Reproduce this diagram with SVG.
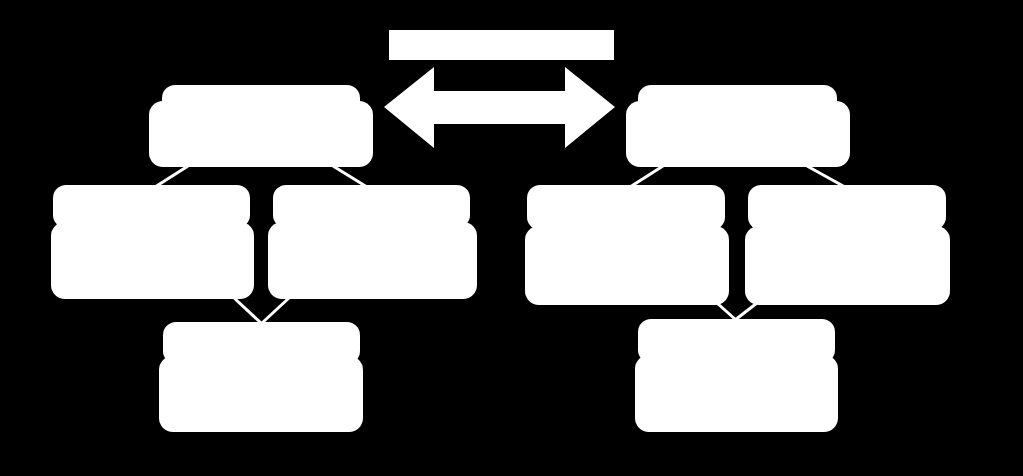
<svg xmlns="http://www.w3.org/2000/svg" width="1023" height="476" viewBox="0 0 1023 476">
<style>
.s{fill:#fff;}
.c line{stroke:#fff;stroke-width:3;}
</style>
<rect width="1023" height="476" fill="#000"/>
<g id="connectors" class="c">
<line x1="188" y1="166" x2="155" y2="187"/>
<line x1="333" y1="166" x2="367" y2="187"/>
<line x1="233" y1="297" x2="261" y2="323"/>
<line x1="290" y1="297" x2="262" y2="323"/>
<line x1="663" y1="166" x2="630" y2="187"/>
<line x1="807" y1="166" x2="845" y2="187"/>
<line x1="717" y1="303" x2="736" y2="320"/>
<line x1="757" y1="303" x2="735" y2="320"/>
</g>
<g id="title-bar"><rect class="s" x="389" y="30" width="225" height="30"/></g>
<g id="double-arrow"><polygon class="s" points="384,107 434,67 434,91 565,91 565,67 615,107 565,148 565,124 434,124 434,148"/></g>
<g id="node-top-left">
<rect class="s" x="162" y="85" width="198" height="40" rx="13"/>
<rect class="s" x="149" y="101" width="224" height="66" rx="14"/>
</g>
<g id="node-mid-left-a">
<rect class="s" x="53" y="185" width="197" height="43" rx="13"/>
<rect class="s" x="51" y="222" width="203" height="77" rx="14"/>
</g>
<g id="node-mid-left-b">
<rect class="s" x="273" y="185" width="197" height="43" rx="13"/>
<rect class="s" x="268" y="222" width="209" height="77" rx="14"/>
</g>
<g id="node-bottom-left">
<rect class="s" x="163" y="322" width="197" height="42" rx="13"/>
<rect class="s" x="159" y="356" width="204" height="76" rx="14"/>
</g>
<g id="node-top-right">
<rect class="s" x="638" y="85" width="199" height="40" rx="13"/>
<rect class="s" x="626" y="101" width="224" height="66" rx="14"/>
</g>
<g id="node-mid-right-a">
<rect class="s" x="527" y="185" width="198" height="45" rx="13"/>
<rect class="s" x="525" y="226" width="204" height="79" rx="14"/>
</g>
<g id="node-mid-right-b">
<rect class="s" x="748" y="185" width="198" height="45" rx="13"/>
<rect class="s" x="745" y="226" width="205" height="79" rx="14"/>
</g>
<g id="node-bottom-right">
<rect class="s" x="638" y="319" width="197" height="44" rx="13"/>
<rect class="s" x="635" y="355" width="203" height="77" rx="14"/>
</g>
</svg>
